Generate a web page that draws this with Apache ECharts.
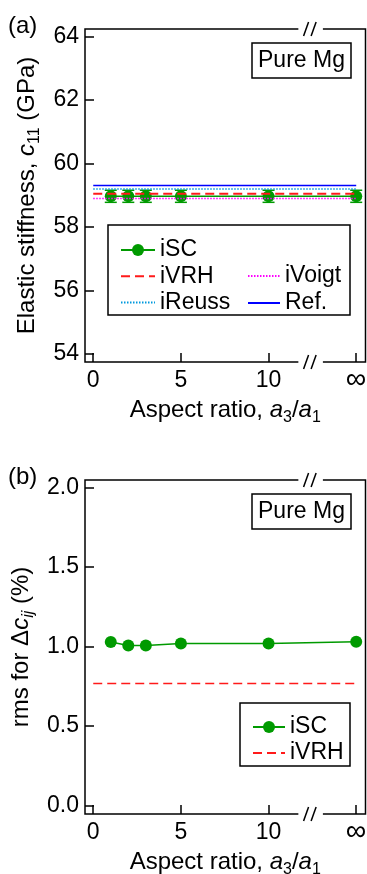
<!DOCTYPE html>
<html><head><meta charset="utf-8">
<script src="https://cdn.jsdelivr.net/npm/echarts@6/dist/echarts.min.js"></script>
<style>html,body{margin:0;padding:0;background:#fff}#c{width:367px;height:874px}</style>
</head><body><div id="c"></div><script>
// ---- data ----
const aspectRatio = [1, 2, 3, 5, 10, 15];       // 15 stands for infinity
const lineSpan = [0, 15];
const xTickValues = [0, 5, 10, 15];
const xTickLabels = ['0', '5', '10', '\u221E'];
const c11Ticks = [54, 56, 58, 60, 62, 64];
const rmsTicks = [0, 0.5, 1.0, 1.5, 2.0];
const c11_iSC = [58.97, 58.97, 58.97, 58.97, 58.97, 58.97];
const c11_iSC_err = [0.19, 0.19, 0.19, 0.19, 0.19, 0.19];
const c11_iVRH = 59.05;
const c11_iVoigt = 58.90;
const c11_iReuss = 59.20;
const c11_Ref = 59.31;
const rms_iSC = [1.028, 1.006, 1.006, 1.019, 1.019, 1.030];
const rms_iVRH = 0.768;

// ---- style ----
const FONT = '"Liberation Sans", Arial, sans-serif';
const GREEN = '#009a00', RED = '#ff1a1a', MAG = '#ff00ff', CYAN = '#0099dd', BLUE = '#0000ff';
const TICK = 23, TITLE = 24, LEG = 23;

const chart = echarts.init(document.getElementById('c'), null, {renderer: 'canvas'});

const rich = {
  i: {fontSize: TITLE, fontStyle: 'italic', fontFamily: FONT, color: '#000', lineHeight: 30},
  si: {fontSize: 16, fontStyle: 'italic', fontFamily: FONT, color: '#000', lineHeight: 16, verticalAlign: 'bottom'},
  s: {fontSize: 16, fontFamily: FONT, color: '#000', lineHeight: 16, verticalAlign: 'bottom'}
};
const nameStyle = {fontSize: TITLE, fontFamily: FONT, color: '#000', lineHeight: 30, rich: rich};

function xAxisCfg(gi) {
  return {
    type: 'value', gridIndex: gi, min: -0.47, max: 15.53,
    axisLine: {show: false, onZero: false},
    splitLine: {show: false},
    axisTick: {show: true, inside: true, length: 9, customValues: xTickValues, lineStyle: {color: '#000', width: 1.5}},
    axisLabel: {show: true, customValues: xTickValues, margin: 7, fontSize: TICK, fontFamily: FONT, color: '#000',
      formatter: v => { const i = xTickValues.indexOf(v); return i === 3 ? '{inf|' + xTickLabels[i] + '}' : (xTickLabels[i] || ''); },
      rich: {inf: {fontSize: 29, fontFamily: FONT, color: '#000', lineHeight: 22}}},
    name: 'Aspect ratio, {i|a}{s|3}/{i|a}{s|1}', nameLocation: 'middle', nameGap: 32,
    nameTextStyle: nameStyle
  };
}
function yAxisCfg(gi, min, max, ticks, fmt, name, gap) {
  return {
    type: 'value', gridIndex: gi, min: min, max: max,
    axisLine: {show: false, onZero: false}, splitLine: {show: false},
    axisTick: {show: true, inside: true, length: 9, customValues: ticks, lineStyle: {color: '#000', width: 1.5}},
    axisLabel: {show: true, customValues: ticks, margin: 6, fontSize: TICK, fontFamily: FONT, color: '#000', formatter: fmt},
    name: name, nameLocation: 'middle', nameGap: gap, nameRotate: 90,
    nameTextStyle: nameStyle
  };
}

function pairs(xs, ys) { return xs.map((x, i) => [x, ys[i]]); }
function flat(v) { return lineSpan.map(x => [x, v]); }

const errData = aspectRatio.map((x, i) => [x, c11_iSC[i] - c11_iSC_err[i], c11_iSC[i] + c11_iSC_err[i]]);
const noSym = {color: 'rgba(0,0,0,0)', borderWidth: 0, opacity: 0};
const legText = {fontSize: LEG, fontFamily: FONT, color: '#000', lineHeight: 26};

const option = {
  animation: false,
  backgroundColor: '#fff',
  textStyle: {fontFamily: FONT},
  title: [
    {text: 'Pure Mg', left: 252, top: 43, padding: [3, 6, 3, 6], borderColor: '#000', borderWidth: 1.5,
      textStyle: {fontSize: LEG, fontWeight: 'normal', fontFamily: FONT, color: '#000', lineHeight: 29}},
    {text: 'Pure Mg', left: 252, top: 494, padding: [3, 6, 3, 6], borderColor: '#000', borderWidth: 1.5,
      textStyle: {fontSize: LEG, fontWeight: 'normal', fontFamily: FONT, color: '#000', lineHeight: 29}}
  ],
  grid: [
    {left: 85, top: 29, width: 280.5, height: 333, show: true, borderColor: '#000', borderWidth: 1.5,
      backgroundColor: 'transparent', containLabel: false, outerBoundsMode: 'none'},
    {left: 85, top: 480, width: 280.5, height: 334, show: true, borderColor: '#000', borderWidth: 1.5,
      backgroundColor: 'transparent', containLabel: false, outerBoundsMode: 'none'}
  ],
  xAxis: [xAxisCfg(0), xAxisCfg(1)],
  yAxis: [
    yAxisCfg(0, 53.75, 64.24, c11Ticks, v => String(v), 'Elastic stiffness, {i|c}{s|11} (GPa)', 40),
    yAxisCfg(1, -0.052, 2.046, rmsTicks, v => v.toFixed(1), 'rms for \u0394{i|c}{si|ij} (%)', 36)
  ],
  legend: [
    {data: ['iSC', {name: 'iVRH', itemStyle: noSym}, {name: 'iReuss', itemStyle: noSym}],
      orient: 'vertical', left: 115, top: 232, itemWidth: 34, itemHeight: 15, itemGap: 0.3,
      textStyle: legText, selectedMode: false},
    {data: [{name: 'iVoigt', itemStyle: noSym}, {name: 'Ref.', itemStyle: noSym}],
      orient: 'vertical', left: 242, top: 258, itemWidth: 32, itemHeight: 15, itemGap: 1,
      textStyle: legText, selectedMode: false},
    {data: ['iSC', {name: 'iVRH', itemStyle: noSym}],
      orient: 'vertical', left: 247, top: 709, itemWidth: 32, itemHeight: 15, itemGap: 0,
      textStyle: legText, selectedMode: false}
  ],
  series: [
    {name: 'iSC', type: 'line', xAxisIndex: 0, yAxisIndex: 0, data: pairs(aspectRatio, c11_iSC),
      symbol: 'circle', symbolSize: 12, itemStyle: {color: GREEN}, lineStyle: {color: GREEN, width: 1.5}, z: 3},
    {name: 'iSC err', type: 'custom', xAxisIndex: 0, yAxisIndex: 0, data: errData, z: 3,
      renderItem: function (params, api) {
        const x = api.value(0);
        const lo = api.coord([x, api.value(1)]);
        const hi = api.coord([x, api.value(2)]);
        const w = 6;
        const st = {stroke: GREEN, lineWidth: 1.5};
        return {type: 'group', children: [
          {type: 'line', shape: {x1: lo[0], y1: lo[1], x2: hi[0], y2: hi[1]}, style: st},
          {type: 'line', shape: {x1: lo[0] - w, y1: lo[1], x2: lo[0] + w, y2: lo[1]}, style: st},
          {type: 'line', shape: {x1: hi[0] - w, y1: hi[1], x2: hi[0] + w, y2: hi[1]}, style: st}
        ]};
      }},
    {name: 'iVRH', type: 'line', xAxisIndex: 0, yAxisIndex: 0, data: flat(c11_iVRH), symbol: 'none',
      itemStyle: {color: RED}, lineStyle: {color: RED, width: 2, type: [9, 5]}, z: 4},
    {name: 'iVoigt', type: 'line', xAxisIndex: 0, yAxisIndex: 0, data: flat(c11_iVoigt), symbol: 'none',
      itemStyle: {color: MAG}, lineStyle: {color: MAG, width: 1.5, type: [1.5, 1.5]}, z: 4},
    {name: 'iReuss', type: 'line', xAxisIndex: 0, yAxisIndex: 0, data: flat(c11_iReuss), symbol: 'none',
      itemStyle: {color: CYAN}, lineStyle: {color: CYAN, width: 1.5, type: [1.5, 1.5]}, z: 4},
    {name: 'Ref.', type: 'line', xAxisIndex: 0, yAxisIndex: 0, data: flat(c11_Ref), symbol: 'none',
      itemStyle: {color: BLUE}, lineStyle: {color: BLUE, width: 1.5}, z: 4},
    {name: 'iSC', type: 'line', xAxisIndex: 1, yAxisIndex: 1, data: pairs(aspectRatio, rms_iSC),
      symbol: 'circle', symbolSize: 12, itemStyle: {color: GREEN}, lineStyle: {color: GREEN, width: 1.5}, z: 3},
    {name: 'iVRH', type: 'line', xAxisIndex: 1, yAxisIndex: 1, data: flat(rms_iVRH), symbol: 'none',
      itemStyle: {color: RED}, lineStyle: {color: RED, width: 1.5, type: [9, 5]}, z: 4}
  ]
};
chart.setOption(option);

// ---- decorations: axis-break marks, legend frames, panel letters ----
const g = [];
const ranges = [[53.75, 64.24], [-0.052, 2.046]];
[0, 1].forEach(gi => {
  const P = (x, y) => chart.convertToPixel({gridIndex: gi}, [x, y]);
  const yTop = P(0, ranges[gi][1])[1], yBot = P(0, ranges[gi][0])[1];
  const xa = P(11.7, 0)[0], xb = P(13.1, 0)[0];
  const s1 = P(12.14, 0)[0], s2 = P(12.57, 0)[0];
  [yTop, yBot].forEach(yy => {
    g.push({type: 'rect', z: 100, shape: {x: xa, y: yy - 3, width: xb - xa, height: 6}, style: {fill: '#fff'}});
    [s1, s2].forEach(sx => g.push({type: 'line', z: 101,
      shape: {x1: sx - 2.5, y1: yy + 7, x2: sx + 2.5, y2: yy - 7}, style: {stroke: '#000', lineWidth: 1.5}}));
  });
  const letter = P(-0.47, ranges[gi][1]);
  g.push({type: 'text', z: 101, style: {text: gi === 0 ? '(a)' : '(b)', x: letter[0] - 77, y: letter[1] - 3,
    fontSize: 24, fontFamily: FONT, fill: '#000', verticalAlign: 'middle'}});
});
g.push({type: 'rect', z: 100, shape: {x: 108, y: 225, width: 242, height: 90}, style: {fill: 'none', stroke: '#000', lineWidth: 1.5}});
g.push({type: 'rect', z: 100, shape: {x: 240, y: 703, width: 110, height: 63}, style: {fill: 'none', stroke: '#000', lineWidth: 1.5}});
chart.setOption({graphic: g});
</script></body></html>
